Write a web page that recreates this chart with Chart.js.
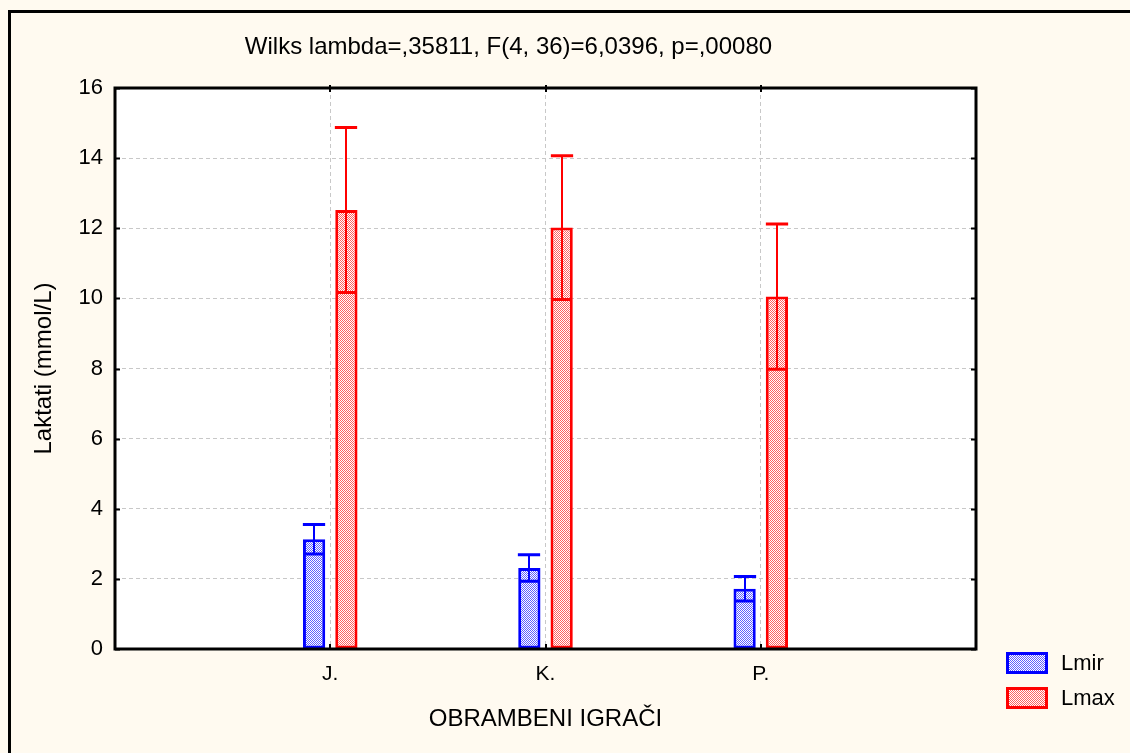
<!DOCTYPE html>
<html>
<head>
<meta charset="utf-8">
<title>Laktati</title>
<script src="https://cdn.jsdelivr.net/npm/chart.js@4.4.0/dist/chart.umd.min.js"></script>
<style>
    html, body { margin: 0; padding: 0; background: #fffaf0; }
    #wrap { position: relative; width: 1130px; height: 753px; }
</style>
</head>
<body>
<div id="wrap">
    <canvas id="lactateChart" width="1130" height="753"></canvas>
</div>
<script>
// Chart data
const categories = ['J.', 'K.', 'P.'];
const lmirMeans = [3.13, 2.31, 1.72];
const lmirErrors = [0.42, 0.38, 0.35];
const lmaxMeans = [12.52, 12.02, 10.05];
const lmaxErrors = [2.35, 2.05, 2.07];
const yTicks = [0, 2, 4, 6, 8, 10, 12, 14, 16];
const titleText = 'Wilks lambda=,35811, F(4, 36)=6,0396, p=,00080';

const FONT = "'Liberation Sans', Arial, sans-serif";

document.addEventListener('DOMContentLoaded', function () {
    initializeChart();
});

/**
 * Small checker pattern, like the hatched fill of the original
 */
function makePattern(color) {
    const c = document.createElement('canvas');
    c.width = 2;
    c.height = 2;
    const g = c.getContext('2d');
    g.fillStyle = '#ffffff';
    g.fillRect(0, 0, 2, 2);
    g.fillStyle = color;
    g.fillRect(0, 0, 1, 1);
    g.fillRect(1, 1, 1, 1);
    return g.createPattern(c, 'repeat');
}

// empty slots at both ends so the categories sit at 1/4, 2/4, 3/4 of the axis
function padded(arr) {
    return [null].concat(arr, [null]);
}

/**
 * Background, white plot area and the outer frame
 */
const backgroundPlugin = {
    id: 'background',
    beforeDraw(chart) {
        const ctx = chart.ctx;
        const a = chart.chartArea;
        ctx.save();
        ctx.fillStyle = '#fffaf0';
        ctx.fillRect(0, 0, chart.width, chart.height);
        ctx.strokeStyle = '#000000';
        ctx.lineWidth = 3;
        ctx.strokeRect(9.5, 11.5, chart.width + 10, chart.height + 10);
        ctx.fillStyle = '#ffffff';
        ctx.fillRect(a.left, a.top, a.right - a.left, a.bottom - a.top);
        ctx.restore();
    }
};

/**
 * Box around the plot with inward tick marks, title and legend
 */
const framePlugin = {
    id: 'frame',
    afterDatasetsDraw(chart) {
        const ctx = chart.ctx;
        const a = chart.chartArea;
        const x = chart.scales.x;
        const y = chart.scales.y;
        ctx.save();
        ctx.strokeStyle = '#000000';
        ctx.lineWidth = 3;
        ctx.strokeRect(a.left, a.top, a.right - a.left, a.bottom - a.top);

        ctx.lineWidth = 2;
        ctx.beginPath();
        yTicks.forEach(v => {
            const py = Math.round(y.getPixelForValue(v)) + 0.5;
            ctx.moveTo(a.left, py);
            ctx.lineTo(a.left + 5, py);
            ctx.moveTo(a.right, py);
            ctx.lineTo(a.right - 5, py);
        });
        categories.forEach((c, i) => {
            const px = Math.round(x.getPixelForValue(i + 1));
            ctx.moveTo(px, a.bottom);
            ctx.lineTo(px, a.bottom - 5);
            ctx.moveTo(px, a.top - 3);
            ctx.lineTo(px, a.top + 4);
        });
        ctx.stroke();

        // title
        ctx.fillStyle = '#000000';
        ctx.font = '24px ' + FONT;
        ctx.textAlign = 'center';
        ctx.textBaseline = 'middle';
        ctx.fillText(titleText, a.left + (a.right - a.left) * 0.457, 47);

        // legend
        ctx.textAlign = 'left';
        ctx.font = '22px ' + FONT;
        chart.data.datasets.forEach((ds, i) => {
            const top = a.bottom + 3 + i * 35;
            const left = a.right + 30;
            ctx.fillStyle = ds.backgroundColor;
            ctx.fillRect(left, top, 42, 22);
            ctx.strokeStyle = ds.borderColor;
            ctx.lineWidth = 3;
            ctx.strokeRect(left + 1.5, top + 1.5, 39, 19);
            ctx.fillStyle = '#000000';
            ctx.fillText(ds.label, left + 55, top + 12);
        });
        ctx.restore();
    }
};

/**
 * Error bars (mean +/- error) drawn through the y scale
 */
const errorBarPlugin = {
    id: 'errorBars',
    afterDatasetsDraw(chart) {
        const ctx = chart.ctx;
        const y = chart.scales.y;
        ctx.save();
        chart.data.datasets.forEach((ds, di) => {
            const meta = chart.getDatasetMeta(di);
            ctx.strokeStyle = ds.borderColor;
            meta.data.forEach((bar, i) => {
                const mean = ds.data[i];
                const err = ds.errors[i];
                if (mean === null || err === null) return;
                const cx = Math.round(bar.x);
                const half = bar.width / 2;
                const top = y.getPixelForValue(mean + err);
                const low = y.getPixelForValue(mean - err);
                ctx.lineWidth = 2;
                ctx.beginPath();
                ctx.moveTo(cx, top);
                ctx.lineTo(cx, low);
                ctx.stroke();
                ctx.lineWidth = 3;
                ctx.beginPath();
                ctx.moveTo(cx - half, top);
                ctx.lineTo(cx + half, top);
                ctx.moveTo(cx - half + 2, low);
                ctx.lineTo(cx + half - 2, low);
                ctx.stroke();
            });
        });
        ctx.restore();
    }
};

function initializeChart() {
    const canvas = document.getElementById('lactateChart');
    if (!canvas || typeof Chart === 'undefined') {
        console.warn('Chart.js not loaded or canvas not found');
        return;
    }

    new Chart(canvas.getContext('2d'), {
        type: 'bar',
        data: {
            labels: padded(categories).map(c => c || ''),
            datasets: [
                {
                    label: 'Lmir',
                    data: padded(lmirMeans),
                    errors: padded(lmirErrors),
                    backgroundColor: makePattern('#6060ff'),
                    borderColor: '#0000ff',
                    borderWidth: 3,
                    borderSkipped: false
                },
                {
                    label: 'Lmax',
                    data: padded(lmaxMeans),
                    errors: padded(lmaxErrors),
                    backgroundColor: makePattern('#ff6060'),
                    borderColor: '#ff0000',
                    borderWidth: 3,
                    borderSkipped: false
                }
            ]
        },
        options: {
            responsive: false,
            animation: false,
            categoryPercentage: 0.3,
            barPercentage: 0.69,
            layout: {
                padding: { left: 10, top: 88, right: 154, bottom: 0 }
            },
            plugins: {
                legend: { display: false },
                tooltip: { enabled: false }
            },
            scales: {
                x: {
                    offset: false,
                    afterFit: s => { s.height = 104; },
                    grid: {
                        offset: false,
                        color: ctx => (ctx.index === 0 || ctx.index === 4) ? 'rgba(0,0,0,0)' : '#c8c8c8',
                        lineWidth: 1,
                        drawTicks: false
                    },
                    border: { display: false, dash: [4, 3] },
                    ticks: {
                        color: '#000000',
                        padding: 13,
                        maxRotation: 0,
                        font: { family: FONT, size: 21 }
                    },
                    title: {
                        display: true,
                        text: 'OBRAMBENI IGRAČI',
                        color: '#000000',
                        padding: { top: 0, bottom: 19 },
                        font: { family: FONT, size: 24 }
                    }
                },
                y: {
                    min: 0,
                    max: 16,
                    afterFit: s => { s.width = 105; },
                    afterBuildTicks: s => { s.ticks = yTicks.map(v => ({ value: v })); },
                    grid: {
                        color: ctx => (ctx.index === 0 || ctx.index === yTicks.length - 1) ? 'rgba(0,0,0,0)' : '#c8c8c8',
                        lineWidth: 1,
                        drawTicks: false
                    },
                    border: { display: false, dash: [4, 3] },
                    ticks: {
                        color: '#000000',
                        padding: 12,
                        font: { family: FONT, size: 22 }
                    },
                    title: {
                        display: true,
                        text: 'Laktati (mmol/L)',
                        color: '#000000',
                        padding: { top: 20, bottom: 0 },
                        font: { family: FONT, size: 24 }
                    }
                }
            }
        },
        plugins: [backgroundPlugin, errorBarPlugin, framePlugin]
    });
}
</script>
</body>
</html>
